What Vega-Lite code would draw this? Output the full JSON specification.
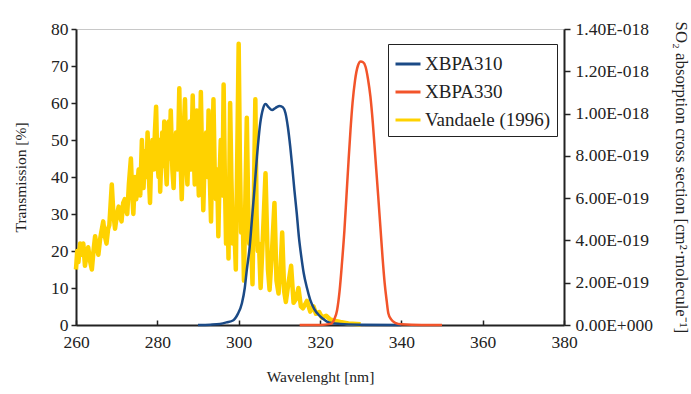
{
  "$schema": "https://vega.github.io/schema/vega-lite/v6.json",
  "width": 488,
  "height": 296,
  "autosize": {"type": "none"},
  "padding": {"left": 76, "top": 29, "right": 127, "bottom": 69},
  "background": "white",
  "config": {
    "font": "Liberation Serif",
    "view": {"stroke": "#c8c8c8"},
    "axis": {
      "labelFont": "Liberation Serif",
      "titleFont": "Liberation Serif",
      "labelFontSize": 17.5,
      "titleFontSize": 15.5,
      "titleFontWeight": "normal",
      "labelColor": "#222",
      "titleColor": "#222",
      "domainColor": "#222",
      "tickColor": "#222",
      "domainWidth": 2,
      "tickWidth": 1.5,
      "grid": false
    }
  },
  "datasets": {
    "vandaele": [
      {"nm": 260.0, "sigma": 2.625e-19, "series": "Vandaele (1996)"},
      {"nm": 260.3, "sigma": 3.5e-19, "series": "Vandaele (1996)"},
      {"nm": 260.6, "sigma": 2.975e-19, "series": "Vandaele (1996)"},
      {"nm": 261.0, "sigma": 3.85e-19, "series": "Vandaele (1996)"},
      {"nm": 261.4, "sigma": 3.325e-19, "series": "Vandaele (1996)"},
      {"nm": 261.8, "sigma": 3.85e-19, "series": "Vandaele (1996)"},
      {"nm": 262.2, "sigma": 2.8e-19, "series": "Vandaele (1996)"},
      {"nm": 262.6, "sigma": 3.325e-19, "series": "Vandaele (1996)"},
      {"nm": 263.0, "sigma": 3.675e-19, "series": "Vandaele (1996)"},
      {"nm": 263.5, "sigma": 2.975e-19, "series": "Vandaele (1996)"},
      {"nm": 263.9, "sigma": 2.625e-19, "series": "Vandaele (1996)"},
      {"nm": 264.3, "sigma": 3.5e-19, "series": "Vandaele (1996)"},
      {"nm": 264.7, "sigma": 4.2e-19, "series": "Vandaele (1996)"},
      {"nm": 265.1, "sigma": 3.675e-19, "series": "Vandaele (1996)"},
      {"nm": 265.5, "sigma": 3.325e-19, "series": "Vandaele (1996)"},
      {"nm": 265.9, "sigma": 4.025e-19, "series": "Vandaele (1996)"},
      {"nm": 266.2, "sigma": 4.375e-19, "series": "Vandaele (1996)"},
      {"nm": 266.7, "sigma": 4.9e-19, "series": "Vandaele (1996)"},
      {"nm": 267.1, "sigma": 4.2e-19, "series": "Vandaele (1996)"},
      {"nm": 267.5, "sigma": 3.85e-19, "series": "Vandaele (1996)"},
      {"nm": 267.9, "sigma": 4.55e-19, "series": "Vandaele (1996)"},
      {"nm": 268.2, "sigma": 4.725e-19, "series": "Vandaele (1996)"},
      {"nm": 268.8, "sigma": 6.65e-19, "series": "Vandaele (1996)"},
      {"nm": 269.2, "sigma": 5.25e-19, "series": "Vandaele (1996)"},
      {"nm": 269.6, "sigma": 4.55e-19, "series": "Vandaele (1996)"},
      {"nm": 270.1, "sigma": 5.25e-19, "series": "Vandaele (1996)"},
      {"nm": 270.5, "sigma": 5.6e-19, "series": "Vandaele (1996)"},
      {"nm": 270.9, "sigma": 5.075e-19, "series": "Vandaele (1996)"},
      {"nm": 271.2, "sigma": 4.9e-19, "series": "Vandaele (1996)"},
      {"nm": 271.6, "sigma": 5.775e-19, "series": "Vandaele (1996)"},
      {"nm": 272.0, "sigma": 5.95e-19, "series": "Vandaele (1996)"},
      {"nm": 272.3, "sigma": 5.425e-19, "series": "Vandaele (1996)"},
      {"nm": 272.6, "sigma": 5.25e-19, "series": "Vandaele (1996)"},
      {"nm": 273.0, "sigma": 6.65e-19, "series": "Vandaele (1996)"},
      {"nm": 273.5, "sigma": 7.875e-19, "series": "Vandaele (1996)"},
      {"nm": 273.8, "sigma": 6.3e-19, "series": "Vandaele (1996)"},
      {"nm": 274.1, "sigma": 5.25e-19, "series": "Vandaele (1996)"},
      {"nm": 274.5, "sigma": 7.0e-19, "series": "Vandaele (1996)"},
      {"nm": 274.8, "sigma": 5.95e-19, "series": "Vandaele (1996)"},
      {"nm": 275.4, "sigma": 7.35e-19, "series": "Vandaele (1996)"},
      {"nm": 275.8, "sigma": 6.125e-19, "series": "Vandaele (1996)"},
      {"nm": 276.2, "sigma": 8.75e-19, "series": "Vandaele (1996)"},
      {"nm": 276.6, "sigma": 6.475e-19, "series": "Vandaele (1996)"},
      {"nm": 277.0, "sigma": 8.225e-19, "series": "Vandaele (1996)"},
      {"nm": 277.3, "sigma": 7.0e-19, "series": "Vandaele (1996)"},
      {"nm": 277.6, "sigma": 9.1e-19, "series": "Vandaele (1996)"},
      {"nm": 278.0, "sigma": 6.65e-19, "series": "Vandaele (1996)"},
      {"nm": 278.2, "sigma": 5.775e-19, "series": "Vandaele (1996)"},
      {"nm": 278.5, "sigma": 7.875e-19, "series": "Vandaele (1996)"},
      {"nm": 278.8, "sigma": 8.75e-19, "series": "Vandaele (1996)"},
      {"nm": 279.1, "sigma": 7.35e-19, "series": "Vandaele (1996)"},
      {"nm": 279.4, "sigma": 9.1e-19, "series": "Vandaele (1996)"},
      {"nm": 279.7, "sigma": 1.0325e-18, "series": "Vandaele (1996)"},
      {"nm": 280.0, "sigma": 7.7e-19, "series": "Vandaele (1996)"},
      {"nm": 280.3, "sigma": 7.0e-19, "series": "Vandaele (1996)"},
      {"nm": 280.5, "sigma": 8.75e-19, "series": "Vandaele (1996)"},
      {"nm": 280.7, "sigma": 6.3e-19, "series": "Vandaele (1996)"},
      {"nm": 281.0, "sigma": 8.05e-19, "series": "Vandaele (1996)"},
      {"nm": 281.2, "sigma": 9.1e-19, "series": "Vandaele (1996)"},
      {"nm": 281.5, "sigma": 7.525e-19, "series": "Vandaele (1996)"},
      {"nm": 281.7, "sigma": 9.625e-19, "series": "Vandaele (1996)"},
      {"nm": 282.0, "sigma": 7.7e-19, "series": "Vandaele (1996)"},
      {"nm": 282.3, "sigma": 6.65e-19, "series": "Vandaele (1996)"},
      {"nm": 282.6, "sigma": 8.4e-19, "series": "Vandaele (1996)"},
      {"nm": 282.8, "sigma": 9.625e-19, "series": "Vandaele (1996)"},
      {"nm": 283.0, "sigma": 7.875e-19, "series": "Vandaele (1996)"},
      {"nm": 283.3, "sigma": 1.015e-18, "series": "Vandaele (1996)"},
      {"nm": 283.7, "sigma": 7.35e-19, "series": "Vandaele (1996)"},
      {"nm": 284.0, "sigma": 6.475e-19, "series": "Vandaele (1996)"},
      {"nm": 284.3, "sigma": 8.4e-19, "series": "Vandaele (1996)"},
      {"nm": 284.6, "sigma": 9.1e-19, "series": "Vandaele (1996)"},
      {"nm": 285.0, "sigma": 7.35e-19, "series": "Vandaele (1996)"},
      {"nm": 285.4, "sigma": 1.12e-18, "series": "Vandaele (1996)"},
      {"nm": 285.7, "sigma": 7.875e-19, "series": "Vandaele (1996)"},
      {"nm": 286.0, "sigma": 5.95e-19, "series": "Vandaele (1996)"},
      {"nm": 286.4, "sigma": 8.75e-19, "series": "Vandaele (1996)"},
      {"nm": 286.8, "sigma": 1.0675e-18, "series": "Vandaele (1996)"},
      {"nm": 287.1, "sigma": 7.7e-19, "series": "Vandaele (1996)"},
      {"nm": 287.4, "sigma": 6.65e-19, "series": "Vandaele (1996)"},
      {"nm": 287.7, "sigma": 8.75e-19, "series": "Vandaele (1996)"},
      {"nm": 288.0, "sigma": 9.625e-19, "series": "Vandaele (1996)"},
      {"nm": 288.3, "sigma": 7.35e-19, "series": "Vandaele (1996)"},
      {"nm": 288.7, "sigma": 1.085e-18, "series": "Vandaele (1996)"},
      {"nm": 289.0, "sigma": 7.875e-19, "series": "Vandaele (1996)"},
      {"nm": 289.2, "sigma": 6.65e-19, "series": "Vandaele (1996)"},
      {"nm": 289.5, "sigma": 8.75e-19, "series": "Vandaele (1996)"},
      {"nm": 289.7, "sigma": 1.015e-18, "series": "Vandaele (1996)"},
      {"nm": 290.0, "sigma": 7.35e-19, "series": "Vandaele (1996)"},
      {"nm": 290.2, "sigma": 6.125e-19, "series": "Vandaele (1996)"},
      {"nm": 290.5, "sigma": 8.75e-19, "series": "Vandaele (1996)"},
      {"nm": 290.7, "sigma": 1.1025e-18, "series": "Vandaele (1996)"},
      {"nm": 291.0, "sigma": 7.875e-19, "series": "Vandaele (1996)"},
      {"nm": 291.3, "sigma": 5.425e-19, "series": "Vandaele (1996)"},
      {"nm": 291.6, "sigma": 7.7e-19, "series": "Vandaele (1996)"},
      {"nm": 292.0, "sigma": 9.1e-19, "series": "Vandaele (1996)"},
      {"nm": 292.3, "sigma": 7.0e-19, "series": "Vandaele (1996)"},
      {"nm": 292.6, "sigma": 1.015e-18, "series": "Vandaele (1996)"},
      {"nm": 292.9, "sigma": 7.0e-19, "series": "Vandaele (1996)"},
      {"nm": 293.2, "sigma": 4.9e-19, "series": "Vandaele (1996)"},
      {"nm": 293.5, "sigma": 7.875e-19, "series": "Vandaele (1996)"},
      {"nm": 293.8, "sigma": 1.0675e-18, "series": "Vandaele (1996)"},
      {"nm": 294.1, "sigma": 7.35e-19, "series": "Vandaele (1996)"},
      {"nm": 294.4, "sigma": 5.95e-19, "series": "Vandaele (1996)"},
      {"nm": 294.7, "sigma": 7.35e-19, "series": "Vandaele (1996)"},
      {"nm": 295.0, "sigma": 4.2e-19, "series": "Vandaele (1996)"},
      {"nm": 295.3, "sigma": 7.0e-19, "series": "Vandaele (1996)"},
      {"nm": 295.6, "sigma": 8.75e-19, "series": "Vandaele (1996)"},
      {"nm": 296.0, "sigma": 6.125e-19, "series": "Vandaele (1996)"},
      {"nm": 296.3, "sigma": 1.1375e-18, "series": "Vandaele (1996)"},
      {"nm": 296.6, "sigma": 7.0e-19, "series": "Vandaele (1996)"},
      {"nm": 296.9, "sigma": 3.85e-19, "series": "Vandaele (1996)"},
      {"nm": 297.2, "sigma": 6.125e-19, "series": "Vandaele (1996)"},
      {"nm": 297.5, "sigma": 3.15e-19, "series": "Vandaele (1996)"},
      {"nm": 297.9, "sigma": 1.05e-18, "series": "Vandaele (1996)"},
      {"nm": 298.2, "sigma": 7.0e-19, "series": "Vandaele (1996)"},
      {"nm": 298.6, "sigma": 3.85e-19, "series": "Vandaele (1996)"},
      {"nm": 298.9, "sigma": 4.9e-19, "series": "Vandaele (1996)"},
      {"nm": 299.3, "sigma": 2.625e-19, "series": "Vandaele (1996)"},
      {"nm": 300.0, "sigma": 1.33e-18, "series": "Vandaele (1996)"},
      {"nm": 300.3, "sigma": 7.875e-19, "series": "Vandaele (1996)"},
      {"nm": 300.6, "sigma": 4.375e-19, "series": "Vandaele (1996)"},
      {"nm": 301.0, "sigma": 5.25e-19, "series": "Vandaele (1996)"},
      {"nm": 301.3, "sigma": 2.1e-19, "series": "Vandaele (1996)"},
      {"nm": 302.0, "sigma": 9.8e-19, "series": "Vandaele (1996)"},
      {"nm": 302.3, "sigma": 6.125e-19, "series": "Vandaele (1996)"},
      {"nm": 302.6, "sigma": 3.85e-19, "series": "Vandaele (1996)"},
      {"nm": 303.0, "sigma": 4.375e-19, "series": "Vandaele (1996)"},
      {"nm": 303.4, "sigma": 1.925e-19, "series": "Vandaele (1996)"},
      {"nm": 304.1, "sigma": 1.0675e-18, "series": "Vandaele (1996)"},
      {"nm": 304.4, "sigma": 5.25e-19, "series": "Vandaele (1996)"},
      {"nm": 304.7, "sigma": 3.5e-19, "series": "Vandaele (1996)"},
      {"nm": 305.0, "sigma": 3.85e-19, "series": "Vandaele (1996)"},
      {"nm": 305.4, "sigma": 1.75e-19, "series": "Vandaele (1996)"},
      {"nm": 306.0, "sigma": 4.375e-19, "series": "Vandaele (1996)"},
      {"nm": 306.6, "sigma": 7.175e-19, "series": "Vandaele (1996)"},
      {"nm": 307.2, "sigma": 2.625e-19, "series": "Vandaele (1996)"},
      {"nm": 307.6, "sigma": 1.66e-19, "series": "Vandaele (1996)"},
      {"nm": 308.2, "sigma": 3.5e-19, "series": "Vandaele (1996)"},
      {"nm": 308.8, "sigma": 5.775e-19, "series": "Vandaele (1996)"},
      {"nm": 309.3, "sigma": 2.1e-19, "series": "Vandaele (1996)"},
      {"nm": 309.8, "sigma": 1.49e-19, "series": "Vandaele (1996)"},
      {"nm": 310.3, "sigma": 2.625e-19, "series": "Vandaele (1996)"},
      {"nm": 310.7, "sigma": 4.375e-19, "series": "Vandaele (1996)"},
      {"nm": 311.2, "sigma": 1.58e-19, "series": "Vandaele (1996)"},
      {"nm": 311.6, "sigma": 1.09e-19, "series": "Vandaele (1996)"},
      {"nm": 312.2, "sigma": 1.925e-19, "series": "Vandaele (1996)"},
      {"nm": 312.9, "sigma": 2.8e-19, "series": "Vandaele (1996)"},
      {"nm": 313.5, "sigma": 1.05e-19, "series": "Vandaele (1996)"},
      {"nm": 314.1, "sigma": 1.23e-19, "series": "Vandaele (1996)"},
      {"nm": 314.7, "sigma": 1.75e-19, "series": "Vandaele (1996)"},
      {"nm": 315.3, "sigma": 8.8e-20, "series": "Vandaele (1996)"},
      {"nm": 315.8, "sigma": 7.9e-20, "series": "Vandaele (1996)"},
      {"nm": 316.3, "sigma": 9.6e-20, "series": "Vandaele (1996)"},
      {"nm": 316.8, "sigma": 1.14e-19, "series": "Vandaele (1996)"},
      {"nm": 317.6, "sigma": 6.3e-20, "series": "Vandaele (1996)"},
      {"nm": 318.4, "sigma": 8.8e-20, "series": "Vandaele (1996)"},
      {"nm": 319.0, "sigma": 5.3e-20, "series": "Vandaele (1996)"},
      {"nm": 319.8, "sigma": 6.1e-20, "series": "Vandaele (1996)"},
      {"nm": 320.5, "sigma": 3.5e-20, "series": "Vandaele (1996)"},
      {"nm": 321.5, "sigma": 4.4e-20, "series": "Vandaele (1996)"},
      {"nm": 322.5, "sigma": 2.6e-20, "series": "Vandaele (1996)"},
      {"nm": 323.5, "sigma": 2.1e-20, "series": "Vandaele (1996)"},
      {"nm": 325.0, "sigma": 1.4e-20, "series": "Vandaele (1996)"},
      {"nm": 327.0, "sigma": 7e-21, "series": "Vandaele (1996)"},
      {"nm": 330.0, "sigma": 3.5e-21, "series": "Vandaele (1996)"}
    ],
    "filters": [
      {"nm": 290.0, "transmission": 0.0, "series": "XBPA310"},
      {"nm": 293.0, "transmission": 0.1, "series": "XBPA310"},
      {"nm": 295.4, "transmission": 0.3, "series": "XBPA310"},
      {"nm": 297.0, "transmission": 0.7, "series": "XBPA310"},
      {"nm": 298.7, "transmission": 1.3, "series": "XBPA310"},
      {"nm": 299.8, "transmission": 3.0, "series": "XBPA310"},
      {"nm": 300.8, "transmission": 5.9, "series": "XBPA310"},
      {"nm": 301.5, "transmission": 10.0, "series": "XBPA310"},
      {"nm": 302.0, "transmission": 14.9, "series": "XBPA310"},
      {"nm": 302.7, "transmission": 21.0, "series": "XBPA310"},
      {"nm": 303.3, "transmission": 29.0, "series": "XBPA310"},
      {"nm": 303.9, "transmission": 37.0, "series": "XBPA310"},
      {"nm": 304.5, "transmission": 45.5, "series": "XBPA310"},
      {"nm": 305.3, "transmission": 54.5, "series": "XBPA310"},
      {"nm": 306.0, "transmission": 58.5, "series": "XBPA310"},
      {"nm": 306.6, "transmission": 59.7, "series": "XBPA310"},
      {"nm": 307.4, "transmission": 58.8, "series": "XBPA310"},
      {"nm": 308.2, "transmission": 58.1, "series": "XBPA310"},
      {"nm": 309.1, "transmission": 58.7, "series": "XBPA310"},
      {"nm": 310.1, "transmission": 59.2, "series": "XBPA310"},
      {"nm": 310.9, "transmission": 58.8, "series": "XBPA310"},
      {"nm": 311.5, "transmission": 57.3, "series": "XBPA310"},
      {"nm": 312.1, "transmission": 53.5, "series": "XBPA310"},
      {"nm": 312.7, "transmission": 48.0, "series": "XBPA310"},
      {"nm": 313.2, "transmission": 42.5, "series": "XBPA310"},
      {"nm": 313.7, "transmission": 36.5, "series": "XBPA310"},
      {"nm": 314.3, "transmission": 30.0, "series": "XBPA310"},
      {"nm": 314.8, "transmission": 23.9, "series": "XBPA310"},
      {"nm": 315.4, "transmission": 18.5, "series": "XBPA310"},
      {"nm": 316.0, "transmission": 14.0, "series": "XBPA310"},
      {"nm": 316.8, "transmission": 10.0, "series": "XBPA310"},
      {"nm": 317.6, "transmission": 6.8, "series": "XBPA310"},
      {"nm": 318.6, "transmission": 4.3, "series": "XBPA310"},
      {"nm": 319.7, "transmission": 2.7, "series": "XBPA310"},
      {"nm": 320.7, "transmission": 1.7, "series": "XBPA310"},
      {"nm": 321.7, "transmission": 0.9, "series": "XBPA310"},
      {"nm": 323.0, "transmission": 0.5, "series": "XBPA310"},
      {"nm": 325.0, "transmission": 0.3, "series": "XBPA310"},
      {"nm": 330.0, "transmission": 0.1, "series": "XBPA310"},
      {"nm": 340.0, "transmission": 0.0, "series": "XBPA310"},
      {"nm": 315.0, "transmission": 0.0, "series": "XBPA330"},
      {"nm": 320.0, "transmission": 0.0, "series": "XBPA330"},
      {"nm": 322.6, "transmission": 0.3, "series": "XBPA330"},
      {"nm": 323.5, "transmission": 1.5, "series": "XBPA330"},
      {"nm": 324.2, "transmission": 4.0, "series": "XBPA330"},
      {"nm": 324.8, "transmission": 9.0, "series": "XBPA330"},
      {"nm": 325.4, "transmission": 16.7, "series": "XBPA330"},
      {"nm": 326.0, "transmission": 25.5, "series": "XBPA330"},
      {"nm": 326.5, "transmission": 34.7, "series": "XBPA330"},
      {"nm": 327.0, "transmission": 44.0, "series": "XBPA330"},
      {"nm": 327.5, "transmission": 52.7, "series": "XBPA330"},
      {"nm": 328.0, "transmission": 60.0, "series": "XBPA330"},
      {"nm": 328.6, "transmission": 66.0, "series": "XBPA330"},
      {"nm": 329.3, "transmission": 70.0, "series": "XBPA330"},
      {"nm": 330.0, "transmission": 71.2, "series": "XBPA330"},
      {"nm": 330.6, "transmission": 71.0, "series": "XBPA330"},
      {"nm": 331.2, "transmission": 69.8, "series": "XBPA330"},
      {"nm": 331.8, "transmission": 66.5, "series": "XBPA330"},
      {"nm": 332.4, "transmission": 61.7, "series": "XBPA330"},
      {"nm": 333.0, "transmission": 54.5, "series": "XBPA330"},
      {"nm": 333.6, "transmission": 45.5, "series": "XBPA330"},
      {"nm": 334.3, "transmission": 35.0, "series": "XBPA330"},
      {"nm": 334.9, "transmission": 25.7, "series": "XBPA330"},
      {"nm": 335.4, "transmission": 18.0, "series": "XBPA330"},
      {"nm": 335.9, "transmission": 11.3, "series": "XBPA330"},
      {"nm": 336.4, "transmission": 6.5, "series": "XBPA330"},
      {"nm": 336.8, "transmission": 3.2, "series": "XBPA330"},
      {"nm": 337.5, "transmission": 1.5, "series": "XBPA330"},
      {"nm": 338.5, "transmission": 0.6, "series": "XBPA330"},
      {"nm": 340.0, "transmission": 0.2, "series": "XBPA330"},
      {"nm": 345.0, "transmission": 0.0, "series": "XBPA330"},
      {"nm": 350.0, "transmission": 0.0, "series": "XBPA330"}
    ]
  },
  "layer": [
    {
      "data": {"name": "vandaele"},
      "mark": {"type": "line", "strokeWidth": 4.5, "strokeJoin": "round"},
      "encoding": {
        "x": {
          "field": "nm", "type": "quantitative",
          "scale": {"domain": [260, 380], "nice": false},
          "axis": {"title": "Wavelenght [nm]", "values": [260, 280, 300, 320, 340, 360, 380], "tickSize": -5, "labelPadding": 13, "titlePadding": 19, "labelFlush": false}
        },
        "y": {
          "field": "sigma", "type": "quantitative",
          "scale": {"domain": [0, 1.4e-18], "nice": false},
          "axis": {
            "orient": "right",
            "title": "SO₂ absorption cross section [cm²·molecule⁻¹]",
            "titleFontSize": 16.8,
            "values": [0, 2e-19, 4e-19, 6e-19, 8e-19, 1e-18, 1.2e-18, 1.4e-18],
            "labelExpr": "datum.value == 0 ? '0.00E+000' : format(datum.value / pow(10, floor(log(datum.value) / LN10 + 1e-9)), '.2f') + 'E-' + format(-floor(log(datum.value) / LN10 + 1e-9), '03d')",
            "tickSize": 6, "labelPadding": 5, "titlePadding": 19, "labelFlush": false
          }
        },
        "color": {
          "field": "series", "type": "nominal",
          "scale": {"domain": ["XBPA310", "XBPA330", "Vandaele (1996)"], "range": ["#1b4a86", "#f2542a", "#ffd200"]},
          "legend": {
            "orient": "none", "legendX": 312, "legendY": 15, "title": null,
            "strokeColor": "#222", "fillColor": "white", "padding": 6,
            "symbolType": "stroke", "symbolSize": 625, "symbolStrokeWidth": 3,
            "labelFont": "Liberation Serif", "labelFontSize": 19, "labelColor": "#222",
            "rowPadding": 4, "labelOffset": 3
          }
        }
      }
    },
    {
      "data": {"name": "filters"},
      "mark": {"type": "line", "strokeWidth": 2.5, "interpolate": "monotone"},
      "encoding": {
        "x": {"field": "nm", "type": "quantitative"},
        "y": {
          "field": "transmission", "type": "quantitative",
          "scale": {"domain": [0, 80], "nice": false},
          "axis": {"orient": "left", "title": "Transmission [%]", "values": [0, 10, 20, 30, 40, 50, 60, 70, 80], "tickSize": 5, "labelPadding": 3, "titlePadding": 22, "labelFlush": false}
        },
        "color": {"field": "series", "type": "nominal"}
      }
    }
  ],
  "resolve": {"scale": {"y": "independent"}}
}
